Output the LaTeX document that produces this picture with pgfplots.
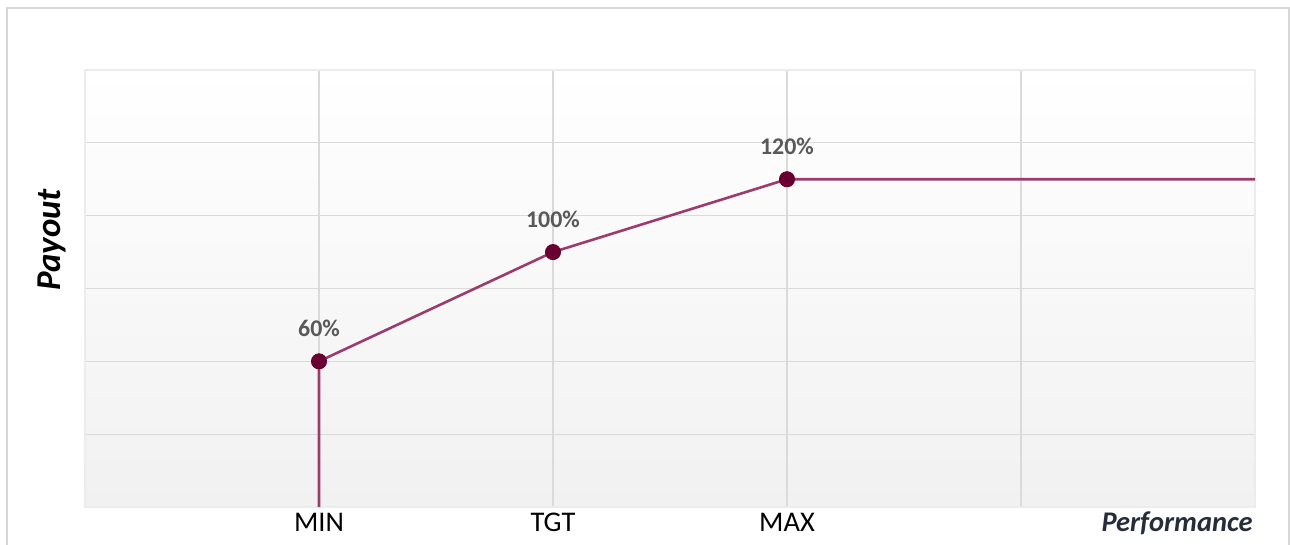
\documentclass[border=0pt]{standalone}
\usepackage{pgfplots}
\pgfplotsset{compat=1.18}
\usepackage{fontspec}
\setmainfont{Carlito}
\definecolor{linec}{RGB}{155,60,110}
\definecolor{markc}{RGB}{105,0,50}
\definecolor{gridc}{RGB}{218,218,218}
\definecolor{labc}{RGB}{89,89,89}
\definecolor{perfc}{RGB}{38,45,58}
\definecolor{framec}{RGB}{215,215,215}
\definecolor{borderc}{RGB}{236,236,240}
\definecolor{bgbot}{RGB}{241,241,241}
\begin{document}
\begin{tikzpicture}
\useasboundingbox (-42.5bp,-19bp) rectangle (602.5bp,253.5bp);
\draw[framec, line width=1bp] (-39bp,-25bp) -- (-39bp,249.5bp) -- (602bp,249.5bp) -- (602bp,-25bp);
\begin{axis}[
  at={(0,0)}, anchor=south west,
  scale only axis, width=585bp, height=218.5bp,
  xmin=0, xmax=5, ymin=0, ymax=6,
  xtick={1,2,3,4}, xticklabels={MIN,TGT,MAX,{}},
  ytick={1,2,3,4,5}, yticklabels={},
  major tick length=0,
  grid=major, grid style={gridc, line width=0.6bp},
  axis line style={borderc, line width=1bp},
  axis background/.style={top color=white, bottom color=bgbot},
  xticklabel style={anchor=base, yshift=-12bp, font=\fontsize{14.3}{16}\selectfont, text=black},
  clip=false,
]
\addplot[linec, line width=1.3bp] coordinates {(1,0) (1,2) (2,3.5) (3,4.5) (5,4.5)};
\addplot[only marks, mark=*, mark size=3.8bp, color=markc,
  nodes near coords, point meta=explicit symbolic,
  nodes near coords style={font=\bfseries\fontsize{12}{14}\selectfont, text=labc, anchor=base, yshift=12.5bp}]
  coordinates {(1,2) [60\%] (2,3.5) [100\%] (3,4.5) [120\%]};
\path (rel axis cs:0,0.611) ++(-16.5bp,0) node[rotate=90, font=\bfseries\itshape\fontsize{17.5}{19}\selectfont, text=black] {Payout};
\path (rel axis cs:1,0) ++(-1bp,-12bp) node[anchor=base east, inner sep=0pt, font=\bfseries\itshape\fontsize{14.3}{16}\selectfont, text=perfc] {Performance};
\end{axis}
\end{tikzpicture}
\end{document}
